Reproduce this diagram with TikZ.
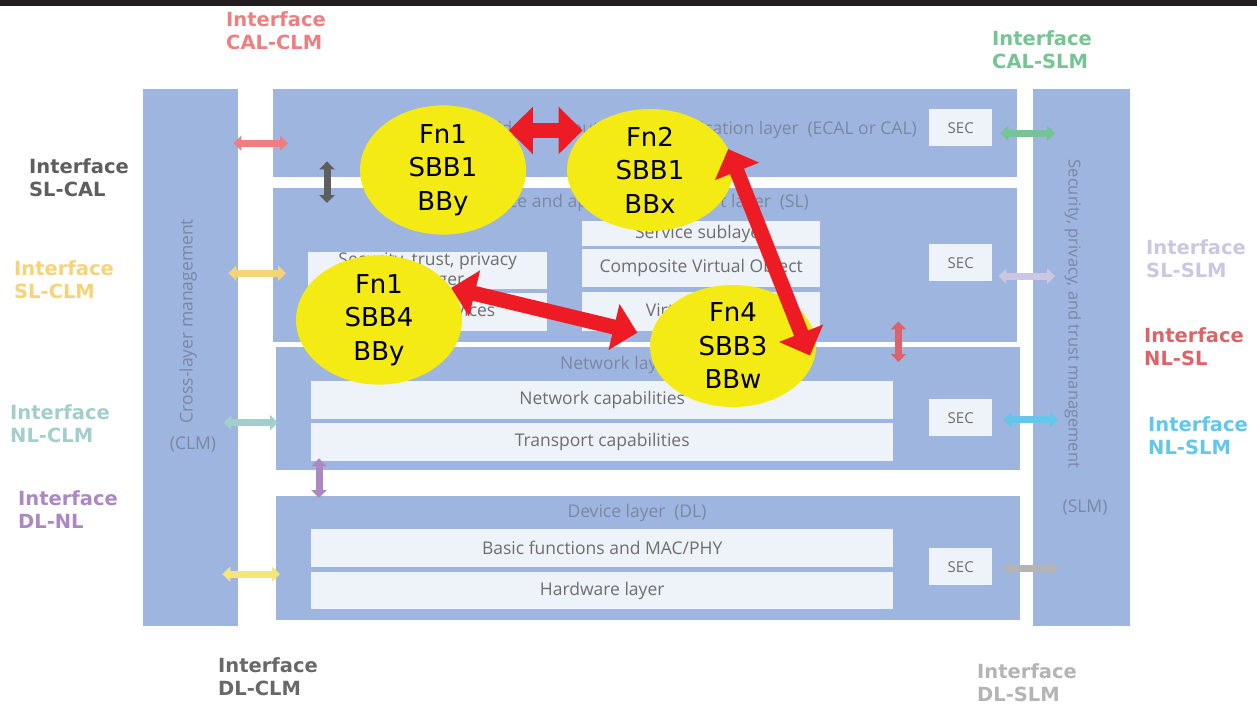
\documentclass[tikz,border=0pt]{standalone}
\usepackage{fontspec}
\usepackage{tikz}
\usetikzlibrary{arrows.meta,positioning,calc,shapes.geometric}
\setmainfont{DejaVu Sans}
\newfontfamily\layfont{Open Sans}
\definecolor{lbar}{HTML}{231F20}
\definecolor{lpanel}{HTML}{9DB5DF}
\definecolor{lbox}{HTML}{EEF2F9}
\definecolor{ltitle}{HTML}{7A88A4}
\definecolor{ltext}{HTML}{6E6E6E}
\definecolor{lyellow}{HTML}{F5EB14}
\definecolor{lred}{HTML}{ED1C24}
\definecolor{icalclm}{HTML}{EE7F81}
\definecolor{islcal}{HTML}{5E5E5E}
\definecolor{islclm}{HTML}{F7D377}
\definecolor{inlclm}{HTML}{A3CECC}
\definecolor{idlnl}{HTML}{AC88C3}
\definecolor{idlclm}{HTML}{F3E77A}
\definecolor{idlclmtxt}{HTML}{686868}
\definecolor{icalslm}{HTML}{74C593}
\definecolor{islslm}{HTML}{CBC7E3}
\definecolor{inlsl}{HTML}{DC6468}
\definecolor{inlslm}{HTML}{62C7EA}
\definecolor{idlslm}{HTML}{B4B4B4}

\tikzset{
  panel/.style={fill=lpanel,anchor=north west,inner sep=0pt},
  subbox/.style={fill=lbox,anchor=north west,inner sep=0pt,align=center,text=ltext,
    font=\layfont\fontsize{17.5}{20}\selectfont},
  secbox/.style={fill=lbox,anchor=north west,inner sep=0pt,minimum width=63pt,minimum height=37pt,
    text=ltext,font=\layfont\fontsize{15}{18}\selectfont},
  laytitle/.style={inner sep=0pt,text=ltitle,font=\layfont\fontsize{17.5}{20}\selectfont},
  fnbubble/.style={ellipse,fill=lyellow,inner sep=0pt,minimum width=166pt,minimum height=122pt,
    align=center,font=\fontsize{26}{33.5}\selectfont},
  iflabel/.style={anchor=north west,inner sep=0pt,align=left,font=\bfseries\fontsize{19.5}{23}\selectfont},
  ifarrow/.style={line width=7pt,{Triangle[length=8pt,width=15pt]}-{Triangle[length=8pt,width=15pt]}},
  bigarrow/.style={draw=lred,line width=15pt,{Triangle[length=24pt,width=46pt]}-{Triangle[length=24pt,width=46pt]}}
}

\begin{document}
\begin{tikzpicture}[x=1pt,y=-1pt]
  \useasboundingbox (0,0) rectangle (1257,706);
  \fill[white] (0,0) rectangle (1257,706);
  \fill[lbar] (0,0) rectangle (1257,6);

  \node[panel,minimum width=95pt,minimum height=537pt] (clm) at (143,89) {};
  \node[panel,minimum width=97pt,minimum height=537pt] (slm) at (1033,89) {};
  \node[panel,minimum width=744pt,minimum height=88pt] (cal) at (273,89) {};
  \node[panel,minimum width=744pt,minimum height=154pt] (sl) at (273,188) {};
  \node[panel,minimum width=744pt,minimum height=123pt] (nl) at (276,347) {};
  \node[panel,minimum width=744pt,minimum height=124pt] (dl) at (276,496) {};

  \node[laytitle,rotate=90] (clmtext) at (188,321) {Cross-layer management};
  \node[laytitle] (clmabbr) at (193,445) {(CLM)};
  \node[laytitle,rotate=-90,font=\layfont\fontsize{16.5}{20}\selectfont] (slmtext) at (1073,314) {Security, privacy, and trust management};
  \node[laytitle] (slmabbr) at (1085,508) {(SLM)};

  \node[laytitle,anchor=east] (caltitle) at (917,130) {Edge computing and application layer\enspace(ECAL or CAL)};
  \node[laytitle,anchor=east] (sltitle) at (809,203) {Service and application support layer\enspace(SL)};
  \node[laytitle] (nltitle) at (638,365) {Network layer\enspace(NL)};
  \node[laytitle] (dltitle) at (637,513) {Device layer\enspace(DL)};

  \node[subbox,minimum width=238pt,minimum height=25pt] (svcsub) at (582,221) {Service sublayer};
  \node[subbox,minimum width=238pt,minimum height=38pt] (cvo) at (582,249) {Composite Virtual Object};
  \node[subbox,minimum width=238pt,minimum height=39pt] (vobj) at (582,292) {Virtual Object};
  \node[subbox,minimum width=239pt,minimum height=36pt] (stp) at (308,252) {Security, trust, privacy\\manager};
  \node[subbox,minimum width=239pt,minimum height=38pt] (supsvc) at (308,293) {Support services};
  \node[subbox,minimum width=582pt,minimum height=38pt] (netcap) at (311,381) {Network capabilities};
  \node[subbox,minimum width=582pt,minimum height=38pt] (trcap) at (311,423) {Transport capabilities};
  \node[subbox,minimum width=582pt,minimum height=38pt] (basic) at (311,529) {Basic functions and MAC/PHY};
  \node[subbox,minimum width=582pt,minimum height=37pt] (hwl) at (311,572) {Hardware layer};

  \node[secbox] (seccal) at (929,109) {SEC};
  \node[secbox] (secsl) at (929,244) {SEC};
  \node[secbox] (secnl) at (929,399) {SEC};
  \node[secbox] (secdl) at (929,548) {SEC};

  \node[iflabel,text=icalclm] (lcalclm) at (226,11) {Interface\\CAL-CLM};
  \node[iflabel,text=islcal] (lslcal) at (29,158) {Interface\\SL-CAL};
  \node[iflabel,text=islclm] (lslclm) at (14,260) {Interface\\SL-CLM};
  \node[iflabel,text=inlclm] (lnlclm) at (10,404) {Interface\\NL-CLM};
  \node[iflabel,text=idlnl] (ldlnl) at (18,490) {Interface\\DL-NL};
  \node[iflabel,text=idlclmtxt] (ldlclm) at (218,657) {Interface\\DL-CLM};
  \node[iflabel,text=icalslm] (lcalslm) at (992,30) {Interface\\CAL-SLM};
  \node[iflabel,text=islslm] (lslslm) at (1146,239) {Interface\\SL-SLM};
  \node[iflabel,text=inlsl] (lnlsl) at (1144,327) {Interface\\NL-SL};
  \node[iflabel,text=inlslm] (lnlslm) at (1148,416) {Interface\\NL-SLM};
  \node[iflabel,text=idlslm] (ldlslm) at (977,663) {Interface\\DL-SLM};

  \draw[ifarrow,icalclm] ($(clm.east|-cal.west)+(-5,10)$) -- ($(cal.west)+(15,10)$);
  \draw[ifarrow,islcal] ($(cal.south west)+(54,-16)$) -- ($(sl.north west)+(54,15)$);
  \draw[ifarrow,islclm] ($(clm.east|-sl.west)+(-10,8)$) -- ($(sl.west)+(13,8)$);
  \draw[ifarrow,inlclm] ($(clm.east|-nl.west)+(-15,14)$) -- ($(nl.west)+(2,14)$);
  \draw[ifarrow,idlnl] ($(nl.south west)+(43,-12)$) -- ($(dl.north west)+(43,2)$);
  \draw[ifarrow,idlclm] ($(clm.east|-dl.west)+(-16,16)$) -- ($(dl.west)+(4,16)$);
  \draw[ifarrow,icalslm] ($(cal.east)+(-17,0)$) -- ($(slm.west|-cal.east)+(22,0)$);
  \draw[ifarrow,islslm] ($(sl.east)+(-19,11)$) -- ($(slm.west|-sl.east)+(22,11)$);
  \draw[ifarrow,inlsl] ($(sl.south east)+(-119,-21)$) -- ($(nl.north east)+(-122,15)$);
  \draw[ifarrow,inlslm] ($(nl.east)+(-17,11)$) -- ($(slm.west|-nl.east)+(25,11)$);
  \draw[ifarrow,idlslm] ($(dl.east)+(-17,10)$) -- ($(slm.west|-dl.east)+(25,10)$);

  \node[fnbubble] (fnA) at (443,170) {Fn1\\SBB1\\BBy};
  \node[fnbubble] (fnB) at (650,170) {Fn2\\SBB1\\BBx};
  \node[fnbubble] (fnC) at (379,320) {Fn1\\SBB4\\BBy};
  \node[fnbubble] (fnD) at (733,346) {Fn4\\SBB3\\BBw};

  \draw[bigarrow] (fnA.31) -- (fnA.31 -| fnB.152);
  \draw[bigarrow,shorten >=8pt] (fnB.15) -- (fnD.-12);
  \draw[bigarrow,shorten >=14pt] (fnC.24) -- (fnD.173);
\end{tikzpicture}
\end{document}
